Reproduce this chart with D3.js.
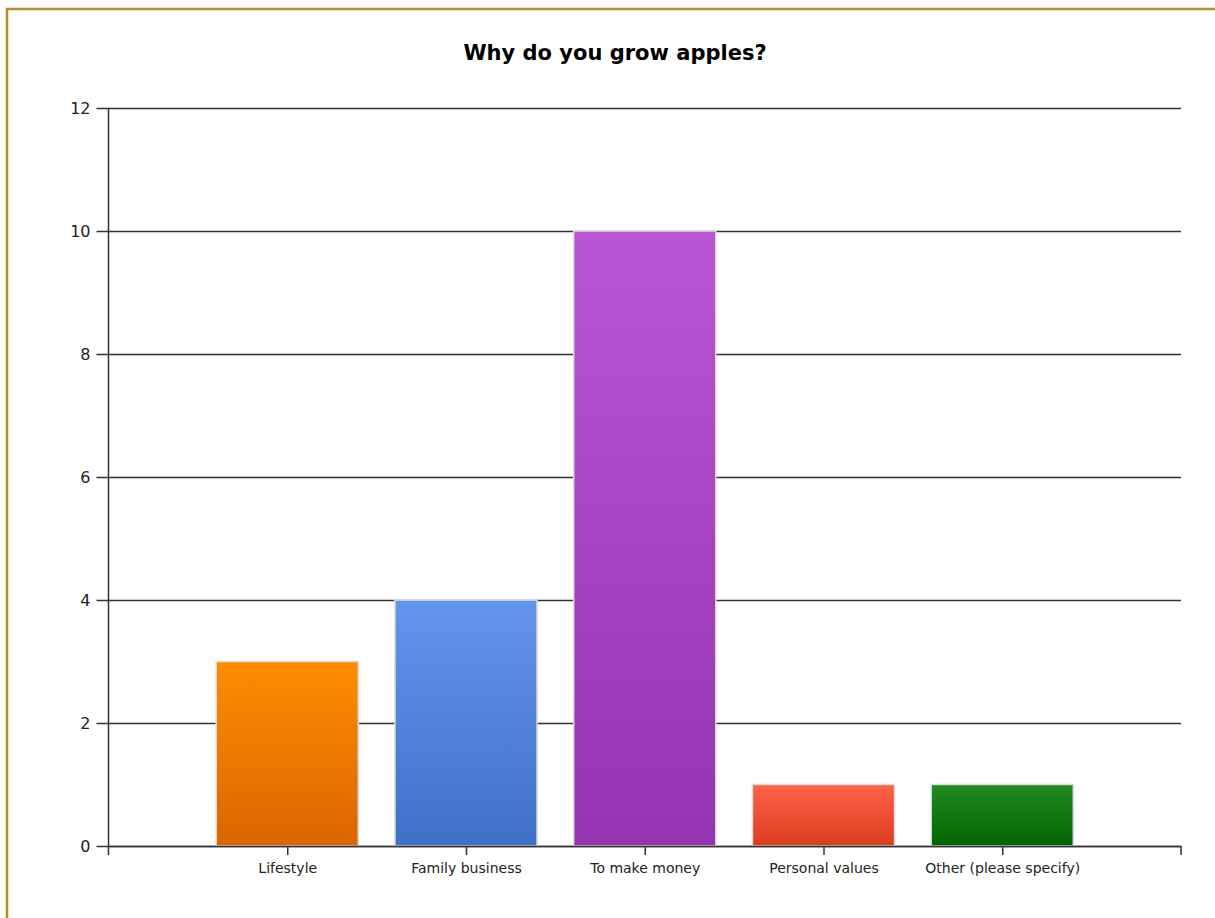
<!DOCTYPE html>
<html>
<head>
<meta charset="utf-8">
<script src="https://cdn.jsdelivr.net/npm/d3@7"></script>
<style>
  body { margin: 0; background: #fff; }
  text { font-family: "DejaVu Sans", Arial, sans-serif; }
</style>
</head>
<body>
<div class="canva"></div>
<script>
const categories = ["Lifestyle", "Family business", "To make money", "Personal values", "Other (please specify)"];
const counts = [3, 4, 10, 1, 1];
const topColors = ["#ff8c00", "#6495ed", "#ba55d3", "#ff6347", "#228b22"];
const bottomColors = ["#db6500", "#3f70c8", "#9633b0", "#da3c1f", "#006400"];
const yTicks = [0, 2, 4, 6, 8, 10, 12];

const svg = d3.select(".canva").append("svg")
            .attr("width", 1215)
            .attr("height", 918);

// gold frame, only top and left visible
svg.append("rect")
    .attr("x", 7).attr("y", 9)
    .attr("width", 1300).attr("height", 1000)
    .attr("fill", "none")
    .attr("stroke", "#b8902a")
    .attr("stroke-width", 2.5);

const margin = {top: 108, left: 108.5, right: 1181, bottom: 846};

const x = d3.scalePoint()
    .domain(categories)
    .range([margin.left, margin.right])
    .padding(1);

const y = d3.scaleLinear()
    .domain([0, 12])
    .range([margin.bottom, margin.top]);

const barWidth = x.step() * 0.795;

svg.append("text")
    .attr("x", 615)
    .attr("y", 60)
    .attr("text-anchor", "middle")
    .attr("font-size", 21)
    .attr("font-weight", "bold")
    .attr("fill", "#000")
    .text("Why do you grow apples?");

// gradients
const defs = svg.append("defs");
categories.forEach((c, i) => {
    const g = defs.append("linearGradient")
        .attr("id", "grad" + i)
        .attr("x1", 0).attr("y1", 0).attr("x2", 0).attr("y2", 1);
    g.append("stop").attr("offset", "0%").attr("stop-color", topColors[i]);
    g.append("stop").attr("offset", "100%").attr("stop-color", bottomColors[i]);
});

// y axis with gridlines
const yAxis = svg.append("g")
    .attr("transform", `translate(${margin.left},0)`)
    .call(d3.axisLeft(y)
        .tickValues(yTicks)
        .tickSize(-(margin.right - margin.left))
        .tickSizeOuter(0)
        .tickPadding(18));
yAxis.select(".domain").remove();
yAxis.selectAll(".tick line")
    .attr("x1", -12)
    .attr("stroke", "#333")
    .attr("stroke-width", 1.5);
yAxis.selectAll(".tick text")
    .attr("font-size", 16)
    .attr("fill", "#222");

svg.append("line")
    .attr("x1", margin.left).attr("x2", margin.left)
    .attr("y1", margin.top).attr("y2", margin.bottom + 9)
    .attr("stroke", "#333")
    .attr("stroke-width", 1.5);

// bars
svg.selectAll(".bar")
    .data(counts)
    .enter()
    .append("rect")
    .attr("class", "bar")
    .attr("x", (d, i) => x(categories[i]) - barWidth / 2)
    .attr("y", d => y(d))
    .attr("width", barWidth)
    .attr("height", d => y(0) - y(d))
    .attr("fill", (d, i) => `url(#grad${i})`)
    .attr("stroke", "#ddd")
    .attr("stroke-width", 1.5);

// x axis
const xAxis = svg.append("g")
    .attr("transform", `translate(0,${margin.bottom})`)
    .call(d3.axisBottom(x)
        .tickSize(9)
        .tickSizeOuter(0)
        .tickPadding(8));
xAxis.select(".domain")
    .attr("stroke", "#333")
    .attr("stroke-width", 1.5);
xAxis.selectAll(".tick line")
    .attr("stroke", "#333")
    .attr("stroke-width", 1.5);
xAxis.selectAll(".tick text")
    .attr("font-size", 14)
    .attr("fill", "#222");

svg.append("line")
    .attr("x1", margin.right).attr("x2", margin.right)
    .attr("y1", margin.bottom).attr("y2", margin.bottom + 9)
    .attr("stroke", "#333")
    .attr("stroke-width", 1.5);
</script>
</body>
</html>
